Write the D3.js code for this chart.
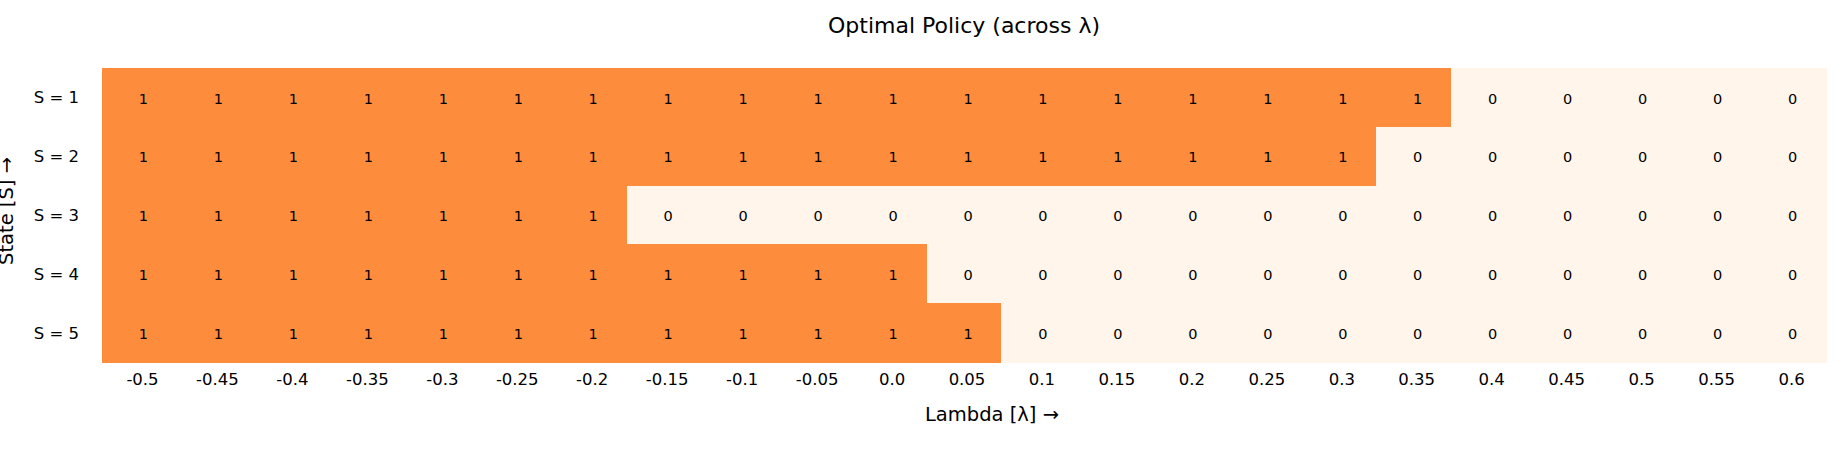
<!DOCTYPE html>
<html>
<head>
<meta charset="utf-8">
<script src="https://cdn.jsdelivr.net/npm/d3@7"></script>
<style>
  body { margin: 0; background: #fff; }
  svg text { font-family: "DejaVu Sans", sans-serif; fill: #000; }
</style>
</head>
<body>
<script>
// lambda values along the x axis (as printed)
var lambdas = ["-0.5", "-0.45", "-0.4", "-0.35", "-0.3", "-0.25", "-0.2", "-0.15", "-0.1", "-0.05",
               "0.0", "0.05", "0.1", "0.15", "0.2", "0.25", "0.3", "0.35", "0.4", "0.45", "0.5", "0.55", "0.6"];

var states = ["S = 1", "S = 2", "S = 3", "S = 4", "S = 5"];

// optimal action per state, one entry per lambda
var policyS1 = [1,1,1,1,1,1,1,1,1,1,1,1,1,1,1,1,1,1,0,0,0,0,0];
var policyS2 = [1,1,1,1,1,1,1,1,1,1,1,1,1,1,1,1,1,0,0,0,0,0,0];
var policyS3 = [1,1,1,1,1,1,1,0,0,0,0,0,0,0,0,0,0,0,0,0,0,0,0];
var policyS4 = [1,1,1,1,1,1,1,1,1,1,1,0,0,0,0,0,0,0,0,0,0,0,0];
var policyS5 = [1,1,1,1,1,1,1,1,1,1,1,1,0,0,0,0,0,0,0,0,0,0,0];

var policy = [policyS1, policyS2, policyS3, policyS4, policyS5];

var width = 1840,
    height = 450;

// plot box (window.top is reserved, so mTop etc.)
var mLeft = 102, mRight = 1826, mTop = 68, mBottom = 362;

var svg = d3.select("body").append("svg")
    .attr("width", width)
    .attr("height", height);

var x = d3.scaleBand()
    .domain(lambdas)
    .range([mLeft, mRight]);

var y = d3.scaleBand()
    .domain(states)
    .range([mTop, mBottom]);

var color = d3.scaleLinear()
    .domain([0, 1])
    .range(["#fff5eb", "#fd8d3c"]);

// flatten into cells
var cells = [];
policy.forEach(function(row, i) {
    row.forEach(function(v, j) {
        cells.push({ state: states[i], lambda: lambdas[j], value: v });
    });
});

svg.append("g").selectAll("rect")
    .data(cells)
    .enter().append("rect")
    .attr("x", d => x(d.lambda))
    .attr("y", d => y(d.state))
    .attr("width", x.bandwidth() + 0.5)
    .attr("height", y.bandwidth() + 0.5)
    .attr("fill", d => color(d.value))
    .attr("shape-rendering", "crispEdges");

// annotations sit a few px right of centre in the original
svg.append("g").selectAll("text")
    .data(cells)
    .enter().append("text")
    .attr("x", d => x(d.lambda) + x.bandwidth() / 2 + 4)
    .attr("y", d => y(d.state) + y.bandwidth() / 2 + 1)
    .attr("dy", "0.36em")
    .attr("text-anchor", "middle")
    .style("font-size", "14.5px")
    .text(d => d.value);

// axes
var xAxis = svg.append("g")
    .attr("transform", "translate(0," + mBottom + ")")
    .call(d3.axisBottom(x).tickSize(0).tickPadding(11));
xAxis.select(".domain").remove();
xAxis.selectAll("text")
    .attr("dx", 3)
    .style("font-size", "16.5px")
    .style("font-family", "DejaVu Sans");

var yAxis = svg.append("g")
    .attr("transform", "translate(" + mLeft + ",0)")
    .call(d3.axisLeft(y).tickSize(0).tickPadding(23));
yAxis.select(".domain").remove();
yAxis.selectAll("text")
    .attr("dy", "0.36em")
    .style("font-size", "16.5px")
    .style("font-family", "DejaVu Sans");

// title + labels
svg.append("text")
    .attr("x", (mLeft + mRight) / 2)
    .attr("y", 33)
    .attr("text-anchor", "middle")
    .style("font-size", "22px")
    .text("Optimal Policy (across λ)");

svg.append("text")
    .attr("x", 992)
    .attr("y", 421)
    .attr("text-anchor", "middle")
    .style("font-size", "19.5px")
    .text("Lambda [λ] →");

svg.append("text")
    .attr("transform", "translate(13,211) rotate(-90)")
    .attr("text-anchor", "middle")
    .style("font-size", "19.5px")
    .text("State [S] →");
</script>
</body>
</html>
